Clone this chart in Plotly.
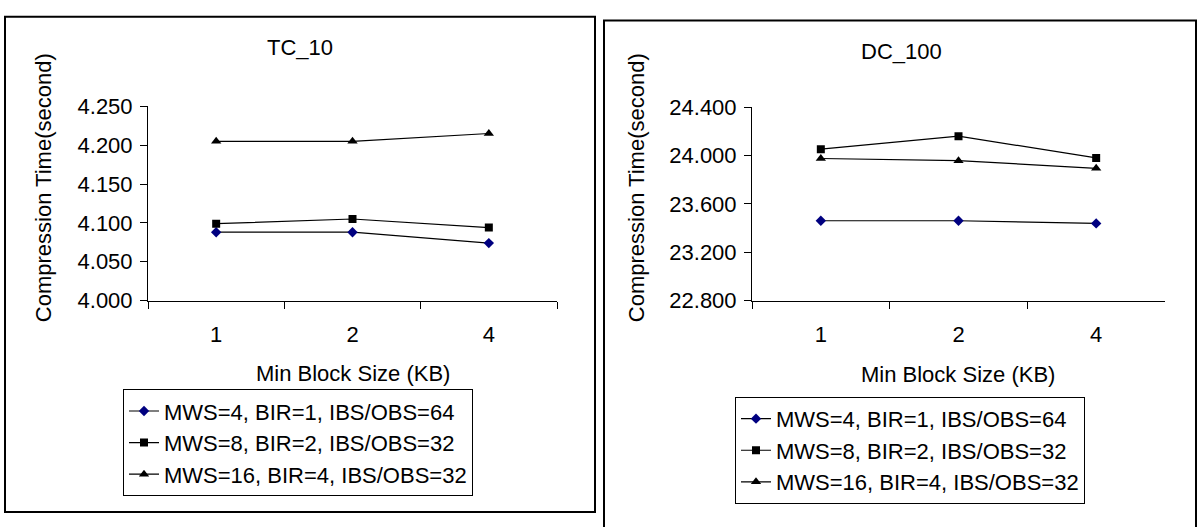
import plotly.graph_objects as go

W, H = 1199, 527

categories = ["1", "2", "4"]
series_names = ["MWS=4, BIR=1, IBS/OBS=64", "MWS=8, BIR=2, IBS/OBS=32", "MWS=16, BIR=4, IBS/OBS=32"]

tc10_s1 = [4.088, 4.088, 4.074]
tc10_s2 = [4.099, 4.105, 4.094]
tc10_s3 = [4.205, 4.205, 4.215]

dc100_s1 = [23.461, 23.461, 23.439]
dc100_s2 = [24.053, 24.161, 23.981]
dc100_s3 = [23.976, 23.958, 23.895]

left_title = "TC_10"
right_title = "DC_100"
x_title = "Min Block Size (KB)"
y_title = "Compression Time(second)"

FONT = "Liberation Sans, Arial, sans-serif"
FS = 22

def px(x):
    return x / W

def py(y):
    return 1 - y / H

markers = [
    dict(symbol="diamond", size=8, color="#000080"),
    dict(symbol="square", size=8, color="black"),
    dict(symbol="triangle-up", size=9, color="black"),
]

fig = go.Figure()

for i, (vals, name) in enumerate(zip([tc10_s1, tc10_s2, tc10_s3], series_names)):
    fig.add_trace(go.Scatter(x=categories, y=vals, name=name, mode="lines+markers",
                             line=dict(color="black", width=1.2), marker=markers[i],
                             xaxis="x", yaxis="y", legend="legend"))
for i, (vals, name) in enumerate(zip([dc100_s1, dc100_s2, dc100_s3], series_names)):
    fig.add_trace(go.Scatter(x=categories, y=vals, name=name, mode="lines+markers",
                             line=dict(color="black", width=1.2), marker=markers[i],
                             xaxis="x2", yaxis="y2", legend="legend2"))

axis_common = dict(showline=True, linecolor="black", linewidth=1, showgrid=False, zeroline=False,
                   ticks="outside", ticklen=7, tickcolor="black",
                   tickfont=dict(family=FONT, size=FS, color="black"))

L = dict(x0=148, x1=557, y0=99, y1=303)
R = dict(x0=752, x1=1165, y0=100, y1=303)

fig.update_layout(
    width=W, height=H, margin=dict(l=0, r=0, t=0, b=0),
    paper_bgcolor="white", plot_bgcolor="white",
    font=dict(family=FONT, size=FS, color="black"),
    xaxis=dict(domain=[px(L["x0"]), px(L["x1"])], anchor="y", type="category",
               range=[-0.5, 2.5], tickson="boundaries", ticklabelstandoff=14, **axis_common),
    yaxis=dict(domain=[py(L["y1"]), py(L["y0"])], anchor="x", range=[4.0, 4.25],
               dtick=0.05, tickformat=".3f", ticklabelstandoff=3, **axis_common),
    xaxis2=dict(domain=[px(R["x0"]), px(R["x1"])], anchor="y2", type="category",
                range=[-0.5, 2.5], tickson="boundaries", ticklabelstandoff=14, **axis_common),
    yaxis2=dict(domain=[py(R["y1"]), py(R["y0"])], anchor="x2", range=[22.8, 24.4],
                dtick=0.4, tickformat=".3f", ticklabelstandoff=3, **axis_common),
    legend=dict(x=px(123), y=py(396), xanchor="left", yanchor="top",
                bordercolor="black", borderwidth=1, bgcolor="white",
                font=dict(family=FONT, size=FS, color="black"), tracegroupgap=0, itemwidth=30),
    legend2=dict(x=px(735), y=py(404), xanchor="left", yanchor="top",
                 bordercolor="black", borderwidth=1, bgcolor="white",
                 font=dict(family=FONT, size=FS, color="black"), tracegroupgap=0, itemwidth=30),
    showlegend=True,
)

# panel borders
fig.add_shape(type="rect", xref="paper", yref="paper", x0=px(5), x1=px(595), y0=py(525), y1=py(5),
              line=dict(color="black", width=2), layer="below")
fig.add_shape(type="path", xref="paper", yref="paper",
              path=f"M {px(604)},{py(560)} L {px(604)},{py(9)} L {px(1196)},{py(9)} L {px(1196)},{py(560)}",
              line=dict(color="black", width=2), layer="below")

ann = []
def add_text(text, x, y, angle=0):
    ann.append(dict(text=text, x=px(x), y=py(y), xref="paper", yref="paper", showarrow=False,
                    xanchor="center", yanchor="middle", textangle=angle,
                    font=dict(family=FONT, size=FS, color="black")))

add_text(left_title, 300, 37)
add_text(right_title, 901, 41)
add_text(x_title, (L["x0"] + L["x1"]) / 2, 379)
add_text(x_title, (R["x0"] + R["x1"]) / 2, 381)
add_text(y_title, 43, 185, -90)
add_text(y_title, 636, 185, -90)
fig.update_layout(annotations=ann)

fig.write_html("out.html", config={"displayModeBar": False},
               post_script="document.body.style.margin='0';document.body.style.overflow='hidden';")
